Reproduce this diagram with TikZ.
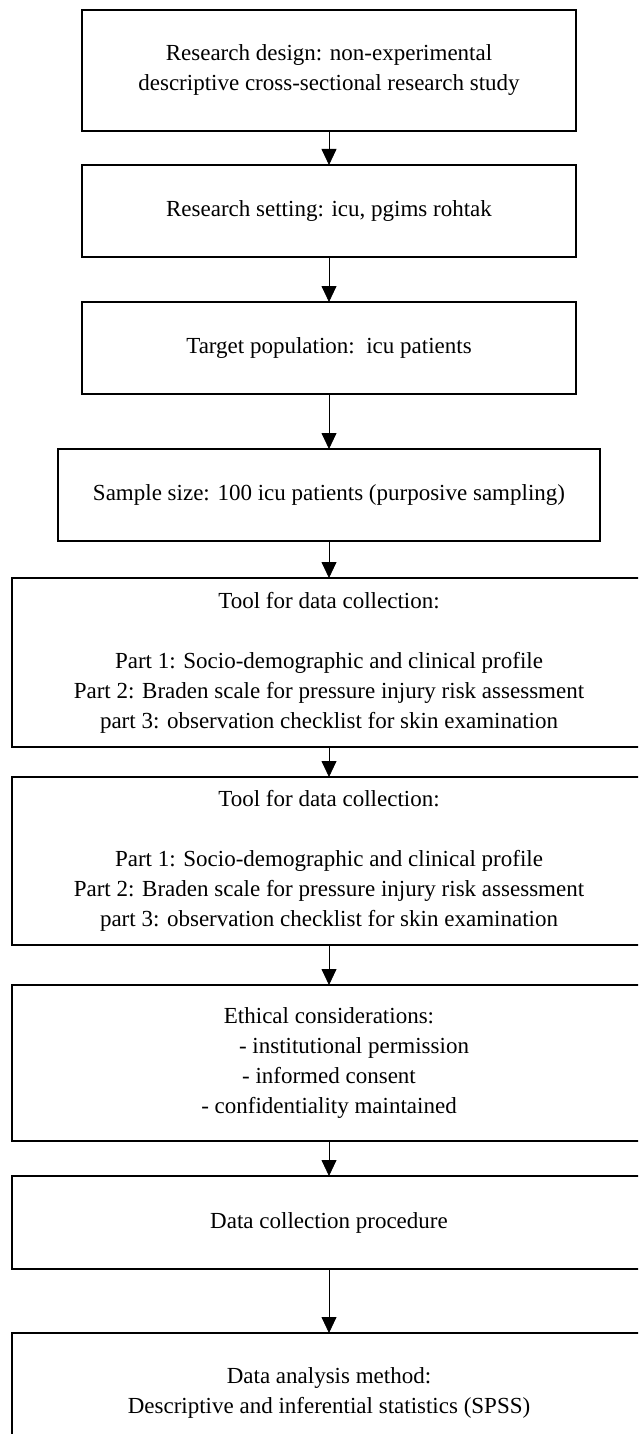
\documentclass[tikz,border=0pt]{standalone}
\usepackage{fontspec}
\setmainfont{Liberation Serif}
\usetikzlibrary{arrows.meta,positioning}

\begin{document}
\begin{tikzpicture}[x=1pt, y=1pt, auto,
    box/.style={rectangle, draw, line width=1.3pt, align=center, inner sep=0pt, outer sep=0pt,
                font=\fontsize{23}{30}\selectfont},
    flow/.style={-{Triangle[length=16pt,width=15pt]}, line width=0.8pt}]
  \useasboundingbox (0,0) rectangle (638,-1434);
  \clip (0,0) rectangle (638,-1434);
  \node (design) at (329,-70.5) [box, minimum width=494pt, minimum height=121pt]
    {Research design: non-experimental\\descriptive cross-sectional research study};
  \node (setting) [below=34pt of design, box, minimum width=494pt, minimum height=92pt]
    {Research setting: icu, pgims rohtak};
  \node (popul) [below=45pt of setting, box, minimum width=494pt, minimum height=92pt]
    {Target population:\ \ icu patients};
  \node (sample) [below=55pt of popul, box, minimum width=542pt, minimum height=92pt]
    {Sample size: 100 icu patients (purposive sampling)};
  \node (tool1) [below=37pt of sample, box, minimum width=634pt, minimum height=169pt]
    {Tool for data collection:\\[30pt]Part 1: Socio-demographic and clinical profile\\
     Part 2: Braden scale for pressure injury risk assessment\\
     part 3: observation checklist for skin examination};
  \node (tool2) [below=30pt of tool1, box, minimum width=634pt, minimum height=168pt]
    {Tool for data collection:\\[30pt]Part 1: Socio-demographic and clinical profile\\
     Part 2: Braden scale for pressure injury risk assessment\\
     part 3: observation checklist for skin examination};
  \node (ethics) [below=40pt of tool2, box, minimum width=634pt, minimum height=156pt]
    {Ethical considerations:\\\hspace*{50pt}- institutional permission\\
     - informed consent\\- confidentiality maintained};
  \node (proc) [below=35pt of ethics, box, minimum width=634pt, minimum height=93pt]
    {Data collection procedure};
  \node (analysis) [below=64pt of proc, box, minimum width=634pt, minimum height=120pt]
    {Data analysis method:\\Descriptive and inferential statistics (SPSS)};
  % arrows down the chain
  \draw[flow] (design) -- (setting);
  \draw[flow] (setting) -- (popul);
  \draw[flow] (popul) -- (sample);
  \draw[flow] (sample) -- (tool1);
  \draw[flow] (tool1) -- (tool2);
  \draw[flow] (tool2) -- (ethics);
  \draw[flow] (ethics) -- (proc);
  \draw[flow] (proc) -- (analysis);
\end{tikzpicture}
\end{document}
